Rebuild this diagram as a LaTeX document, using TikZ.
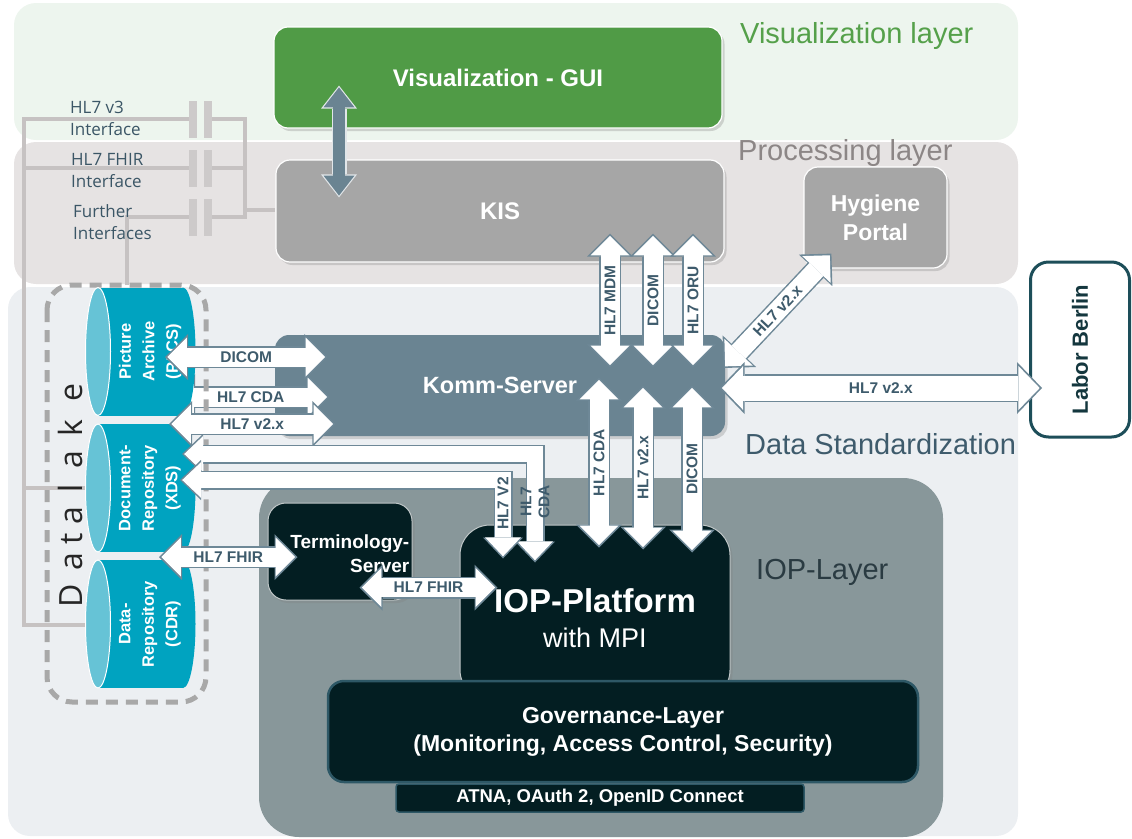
\documentclass[tikz,border=0pt]{standalone}
\usepackage{fontspec}
\setmainfont{Liberation Sans}
\newfontfamily\uifont{Open Sans}
\usetikzlibrary{arrows.meta,calc,shadows,positioning}

\definecolor{visband}{HTML}{EDF5EE}
\definecolor{procband}{HTML}{E6E3E3}
\definecolor{databand}{HTML}{ECEFF2}
\definecolor{iopband}{HTML}{88979A}
\definecolor{guigreen}{HTML}{509B46}
\definecolor{kisgray}{HTML}{A6A6A6}
\definecolor{kommblue}{HTML}{6A8492}
\definecolor{nightteal}{HTML}{031E22}
\definecolor{govrim}{HTML}{2E5866}
\definecolor{cylbody}{HTML}{00A3C0}
\definecolor{cylface}{HTML}{66C3D6}
\definecolor{rimcol}{HTML}{6E8897}
\definecolor{labelcol}{HTML}{3E5B6C}
\definecolor{wirecol}{HTML}{C6C2C2}
\definecolor{platecol}{HTML}{CDCACA}
\definecolor{dashcol}{HTML}{A8A8A8}
\definecolor{laborrim}{HTML}{1D4E59}
\definecolor{vislabel}{HTML}{55A04A}
\definecolor{proclabel}{HTML}{8C8686}
\definecolor{ioplabel}{HTML}{2A3B42}
\definecolor{ifacecol}{HTML}{3B5666}

\tikzset{
  band/.style={rounded corners=22pt},
  layerlabel/.style={anchor=west, inner sep=0pt, font=\fontsize{29}{32}\selectfont},
  tilebox/.style={draw=white, line width=1.2pt, rounded corners=14pt, text=white, align=center,
    font=\bfseries\fontsize{24}{29}\selectfont,
    drop shadow={shadow xshift=2.5pt,shadow yshift=-3pt,opacity=0.3}},
  nightbox/.style={fill=nightteal, draw=white!75!nightteal, line width=1pt, rounded corners=18pt,
    drop shadow={shadow xshift=2.5pt,shadow yshift=-3pt,opacity=0.3}},
  govbox/.style={fill=nightteal, draw=govrim, line width=2.5pt, rounded corners=16pt, text=white,
    align=center, font=\bfseries\fontsize{23}{28}\selectfont},
  atnabox/.style={fill=nightteal, draw=govrim, line width=1.5pt, rounded corners=3pt, text=white,
    inner sep=0pt, minimum width=408pt, minimum height=28pt, font=\bfseries\fontsize{18.5}{20}\selectfont},
  laborbox/.style={draw=laborrim, line width=3pt, fill=white, rounded corners=18pt, rotate=90,
    minimum width=175pt, minimum height=99pt, text=laborrim!70!black,
    font=\bfseries\fontsize{22}{26}\selectfont},
  cyltext/.style={rotate=90, text=white, align=center, inner sep=0pt,
    font=\bfseries\fontsize{16.5}{23.5}\selectfont},
  lakeletter/.style={rotate=90, anchor=base, inner sep=0pt, text=black!85,
    font=\uifont\fontsize{32}{32}\selectfont},
  wire/.style={draw=wirecol, line width=4pt},
  plate/.style={fill=platecol},
  iface/.style={anchor=base west, inner sep=0pt, text=ifacecol, font=\uifont\fontsize{17}{20}\selectfont},
  lbl/.style={inner sep=0pt, text=labelcol, align=center, font=\bfseries\fontsize{15.5}{18}\selectfont},
  arrowrim/.style={draw=rimcol, line width=22pt, >={Triangle[width=46pt,length=23pt,line width=0pt]}, <->},
  arrowbody/.style={draw=white, line width=19pt, shorten <=2.3pt, shorten >=2.3pt,
    >={Triangle[width=39pt,length=19.5pt,line width=0pt]}, <->},
  slimarrowrim/.style={arrowrim, line width=19pt, >={Triangle[width=40pt,length=21pt,line width=0pt]}},
  slimarrowbody/.style={arrowbody, line width=16pt, shorten <=2.2pt, shorten >=2.2pt,
    >={Triangle[width=36pt,length=19pt,line width=0pt]}},
  widearrowrim/.style={arrowrim, line width=28pt, >={Triangle[width=52pt,length=25pt,line width=0pt]}},
  widearrowbody/.style={arrowbody, line width=25pt, >={Triangle[width=44pt,length=21.3pt,line width=0pt]}},
  guiarrowrim/.style={arrowrim, draw=white!80!kommblue, line width=15pt,
    >={Triangle[width=36pt,length=23pt,line width=0pt]}},
  guiarrowbody/.style={arrowbody, draw=kommblue, line width=12.5pt, shorten <=1.8pt, shorten >=1.8pt,
    >={Triangle[width=31pt,length=20pt,line width=0pt]}},
}

% block arrow: rim first, then white body with its label
\newcommand{\blockarrow}[3][]{\draw[#1arrowrim] #2;\draw[#1arrowbody] #2 #3;}

\begin{document}
\begin{tikzpicture}[x=1pt,y=-1pt]
\useasboundingbox (0,0) rectangle (1132,838);

%% layers
\fill[visband,band] (14,3) rectangle (1018,140);
\fill[procband,band] (14,142) rectangle (1018,284);
\fill[databand,band] (8,287) rectangle (1018,836);
\fill[iopband,rounded corners=40pt] (259,478) rectangle (943,837);
\node[layerlabel,text=vislabel] (vislayer) at (740,36) {Visualization layer};
\node[layerlabel,text=proclabel] (proclayer) at (738,153) {Processing layer};
\node[layerlabel,text=labelcol] (datalayer) at (745,444) {Data Standardization};
\node[layerlabel,text=ioplabel] (ioplayer) at (756,572) {IOP-Layer};

%% interfaces
\draw[wire] (86,488) -- (24,488) -- (24,119) -- (190,119);
\draw[wire] (86,625) -- (24,625) -- (24,168) -- (190,168);
\draw[wire] (127,285) -- (127,217) -- (190,217);
\draw[wire] (212,119) -- (245,119) -- (245,217) -- (212,217);
\draw[wire] (212,168) -- (245,168);
\foreach \yy in {119,168,217} {
  \fill[plate] (189,\yy-18.5) rectangle (197,\yy+18.5);
  \fill[plate] (204,\yy-18.5) rectangle (212,\yy+18.5);
}
\foreach \txt/\xx/\yy in {HL7 v3/70/113,Interface/70/135,HL7 FHIR/71/165,Interface/71/187,Further/73/217,Interfaces/73/239}
  \node[iface] (if-\yy) at (\xx,\yy) {\txt};

%% systems
\node[tilebox,fill=guigreen,minimum width=448pt,minimum height=101pt] (gui) at (498,77.5) {Visualization - GUI};
\node[tilebox,fill=kisgray,minimum width=448pt,minimum height=102pt] (kis) at (500,211) {KIS};
\node[tilebox,fill=kisgray,minimum width=143pt,minimum height=101pt,font=\bfseries\fontsize{23}{29}\selectfont] (hyg) at (875.5,217.5) {Hygiene\\Portal};
\node[laborbox] (labor) at (1080,349.5) {Labor Berlin};
\node[tilebox,draw=none,fill=kommblue,minimum width=450pt,minimum height=101pt,font=\bfseries\fontsize{23.5}{28}\selectfont] (komm) at (500,385.5) {Komm-Server};
\node[nightbox,minimum width=144pt,minimum height=97pt] (term) at (340,551.5) {};
\node[anchor=east,inner sep=0pt,text=white,align=right,font=\bfseries\fontsize{19}{23.5}\selectfont] (termtext) at ([xshift=-3pt,yshift=-2pt]term.east) {Terminology-\\Server};
\node[nightbox,rounded corners=30pt,minimum width=270pt,minimum height=175pt] (iop) at (595,612.5) {};
\node[inner sep=0pt,text=white,align=center,font=\fontsize{27}{35}\selectfont] (ioptext) at (595,618) {{\bfseries\fontsize{33}{36}\selectfont IOP-Platform}\\with MPI};
\node[govbox,minimum width=590pt,minimum height=101pt] (gov) at (623,731.5) {Governance-Layer\\(Monitoring, Access Control, Security)};
\node[atnabox] (atna) at (600,798) {ATNA, OAuth 2, OpenID Connect};
\draw[wire] (245,210) -- (kis.west |- 0,210);

%% GUI <-> KIS
\blockarrow[gui]{($(gui.south -| 339,0)+(0,-43)$) -- ($(kis.north -| 339,0)+(0,38)$)}{}

%% behind the archive
\coordinate (cda) at (172,397);
\blockarrow{(cda) -- ($(cda -| komm.west)+(55,0)$)}{node[lbl,midway]{HL7 CDA}}

%% datalake
\draw[dashcol,line width=5pt,dash pattern=on 12pt off 8pt,rounded corners=25pt] (47,285) rectangle (206,702);
\foreach \nm/\cy/\txt in {pacs/351.5/{Picture\\Archive\\(PACS)},xds/488/{Document-\\Repository\\(XDS)},cdr/624/{Data-\\Repository\\(CDR)}} {
  \fill[cylbody] (98,\cy-64) rectangle (183,\cy+64);
  \fill[cylbody] (183,\cy) ellipse [x radius=12.5, y radius=64];
  \filldraw[fill=cylface,draw=white,line width=1pt] (98,\cy) ellipse [x radius=12.5, y radius=64];
  \node[cyltext] (\nm) at (150,\cy) {\txt};
}
\foreach \ch/\yy in {D/596,a/562,t/539,a/516,l/488,a/460,k/428,e/393}
  \node[lakeletter] (lake-\yy) at (82,\yy) {\ch};

%% Komm-Server <-> datalake
\coordinate (dcm) at (165,357);
\coordinate (v2x) at (169,424);
\blockarrow{(dcm) -- ($(dcm -| komm.west)+(53,0)$)}{node[lbl,midway]{DICOM}}
\blockarrow{(v2x) -- ($(v2x -| komm.west)+(61,0)$)}{node[lbl,midway]{HL7 v2.x}}

%% datalake <-> IOP
\coordinate (cdaL) at (182,454);
\coordinate (v2L) at (180,480);
\blockarrow[slim]{(cdaL) -| ($(iop.north -| 535,0)+(0,38)$)}{node[lbl,pos=0.72,rotate=90]{HL7\\CDA}}
\blockarrow[slim]{(v2L) -| ($(iop.north -| 503,0)+(0,34)$)}{node[lbl,pos=0.65,rotate=90]{HL7 V2}}

%% FHIR
\coordinate (fhirL) at (159,557);
\blockarrow{(fhirL) -- ($(fhirL -| term.west)+(30,0)$)}{node[lbl,midway]{HL7 FHIR}}
\blockarrow{($(term.south east)+(-53,-13)$) -- ($(term.south east -| iop.west)+(38,-13)$)}{node[lbl,midway]{HL7 FHIR}}

%% KIS <-> Komm-Server <-> IOP
\foreach \xx/\lab in {610/HL7 MDM,653/DICOM,693/HL7 ORU}
  {\blockarrow{($(kis.south -| \xx,0)+(0,-29)$) -- ($(komm.north -| \xx,0)+(0,33)$)}{node[lbl,midway,rotate=90]{\lab}}}
\foreach \xx/\ya/\yb/\lab in {599/59/23/HL7 CDA,643/51/25/HL7 v2.x,692/51/28/DICOM}
  {\blockarrow{($(komm.south -| \xx,0)+(0,-\ya)$) -- ($(iop.north -| \xx,0)+(0,\yb)$)}{node[lbl,midway,rotate=90]{\lab}}}

%% external
\blockarrow{($(komm.east)+(-2,-17.5)$) -- ($(hyg.south west)+(28,-15)$)}{node[lbl,midway,sloped]{HL7 v2.x}}
\blockarrow[wide]{($(komm.east)+(-6,2.5)$) -- ($(komm.east -| labor.center)+(-38,2.5)$)}{node[lbl,midway]{HL7 v2.x}}
\end{tikzpicture}
\end{document}
